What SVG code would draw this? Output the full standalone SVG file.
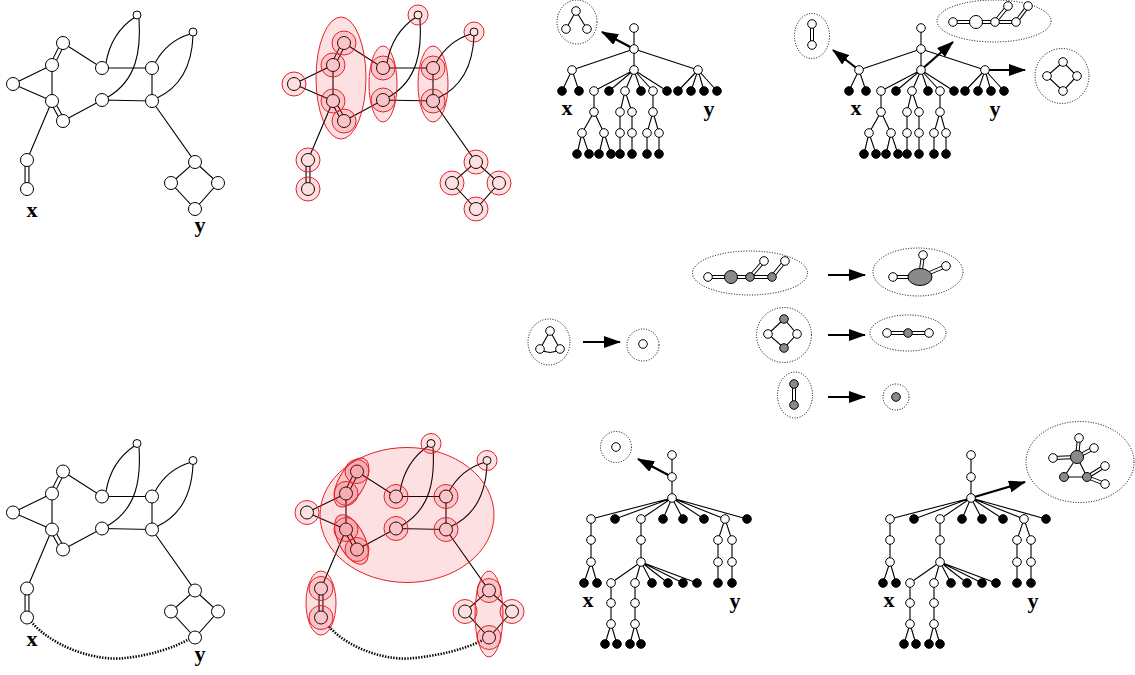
<svg xmlns="http://www.w3.org/2000/svg" xmlns:xlink="http://www.w3.org/1999/xlink" width="1135" height="675" viewBox="0 0 1135 675">
<style>
.e{stroke:#000;stroke-width:1.1;fill:none}
.do{stroke:#000;stroke-width:5;fill:none}
.di{stroke:#fff;stroke-width:2.8;fill:none}
.do2{stroke:#000;stroke-width:4;fill:none}
.di2{stroke:#fff;stroke-width:2;fill:none}
.n{fill:#fff;stroke:#000;stroke-width:1}
.b{fill:#000;stroke:#000;stroke-width:1}
.g{fill:#8a8a8a;stroke:#000;stroke-width:1}
.dot{fill:none;stroke:#000;stroke-width:1;stroke-dasharray:1 1.6}
.pk{fill:#e8101c;fill-opacity:0.13;stroke:#e6222a;stroke-width:1}
.arr{stroke:#000;stroke-width:2.2;fill:none;marker-end:url(#ah)}
.dl{fill:none;stroke:#000;stroke-width:2.6;stroke-dasharray:1.4 1.4}
.lbl{font-family:"Liberation Serif",serif;font-weight:bold;font-size:22px;text-anchor:middle;fill:#000}
</style>
<defs>
<marker id="ah" markerUnits="userSpaceOnUse" markerWidth="17" markerHeight="12" refX="16" refY="6" orient="auto"><path d="M0,0 L17,6 L0,12 z" fill="#000"/></marker>
<g id="gE">
<path class="e" d="M52,65 L13,84 L52,101 M52,65 L52,101 M63,43 L102,68 L152,68 L152,101 L102,100 L63,121 M52,101 L27,160 M152,101 L195,162 L171,183 L195,209 L218,183 L195,162"/>
<path class="e" d="M106,63 Q111,33 135,17 M139,19 C141,50 137,80 108,97 M155,63 Q167,41 190,34 M193,36 C192,60 185,85 157,98"/>
<path class="do" d="M63,43 L52,65 M52,101 L63,121 M27,160 L27,189"/>
<path class="di" d="M63,43 L52,65 M52,101 L63,121 M27,160 L27,189"/>
</g>
</defs>
<rect width="1135" height="675" fill="#fff"/>

<!-- Panel 1 -->
<g id="panel1">
<g id="p1-connectors"><use href="#gE"/></g>
<circle id="p1-A" class="n" cx="137" cy="15" r="4"/>
<circle id="p1-B" class="n" cx="193" cy="32" r="4"/>
<circle id="p1-n1" class="n" cx="63" cy="43" r="6.5"/>
<circle id="p1-n2" class="n" cx="52" cy="65" r="6.5"/>
<circle id="p1-n3" class="n" cx="13" cy="84" r="6.5"/>
<circle id="p1-n4" class="n" cx="52" cy="101" r="6.5"/>
<circle id="p1-n5" class="n" cx="63" cy="121" r="6.5"/>
<circle id="p1-m1" class="n" cx="102" cy="68" r="6.5"/>
<circle id="p1-m2" class="n" cx="102" cy="100" r="6.5"/>
<circle id="p1-r1" class="n" cx="152" cy="68" r="6.5"/>
<circle id="p1-r2" class="n" cx="152" cy="101" r="6.5"/>
<circle id="p1-x1" class="n" cx="27" cy="160" r="6.5"/>
<circle id="p1-x2" class="n" cx="27" cy="189" r="6.5"/>
<circle id="p1-yt" class="n" cx="195" cy="162" r="6.5"/>
<circle id="p1-yl" class="n" cx="171" cy="183" r="6.5"/>
<circle id="p1-yr" class="n" cx="218" cy="183" r="6.5"/>
<circle id="p1-yb" class="n" cx="195" cy="209" r="6.5"/>
<text class="lbl" x="32" y="217">x</text>
<text class="lbl" x="200" y="232">y</text>
</g>

<!-- Panel 2 -->
<g id="panel2" transform="translate(281,0)">
<g id="p2-connectors"><use href="#gE"/></g>
<circle id="p2-A" class="n" cx="137" cy="15" r="4"/>
<circle id="p2-B" class="n" cx="193" cy="32" r="4"/>
<circle id="p2-n1" class="n" cx="63" cy="43" r="6.5"/>
<circle id="p2-n2" class="n" cx="52" cy="65" r="6.5"/>
<circle id="p2-n3" class="n" cx="13" cy="84" r="6.5"/>
<circle id="p2-n4" class="n" cx="52" cy="101" r="6.5"/>
<circle id="p2-n5" class="n" cx="63" cy="121" r="6.5"/>
<circle id="p2-m1" class="n" cx="102" cy="68" r="6.5"/>
<circle id="p2-m2" class="n" cx="102" cy="100" r="6.5"/>
<circle id="p2-r1" class="n" cx="152" cy="68" r="6.5"/>
<circle id="p2-r2" class="n" cx="152" cy="101" r="6.5"/>
<circle id="p2-x1" class="n" cx="27" cy="160" r="6.5"/>
<circle id="p2-x2" class="n" cx="27" cy="189" r="6.5"/>
<circle id="p2-yt" class="n" cx="195" cy="162" r="6.5"/>
<circle id="p2-yl" class="n" cx="171" cy="183" r="6.5"/>
<circle id="p2-yr" class="n" cx="218" cy="183" r="6.5"/>
<circle id="p2-yb" class="n" cx="195" cy="209" r="6.5"/>
<g id="p2-groups">
<ellipse class="pk" cx="60" cy="78" rx="25" ry="61"/>
<ellipse class="pk" cx="102" cy="84" rx="14" ry="38"/>
<ellipse class="pk" cx="152" cy="84" rx="15" ry="38"/>
<circle class="pk" cx="137" cy="15" r="10"/>
<circle class="pk" cx="193" cy="32" r="10"/>
<circle class="pk" cx="63" cy="43" r="12"/>
<circle class="pk" cx="52" cy="65" r="12"/>
<circle class="pk" cx="13" cy="84" r="12"/>
<circle class="pk" cx="52" cy="101" r="12"/>
<circle class="pk" cx="63" cy="121" r="12"/>
<circle class="pk" cx="102" cy="68" r="12"/>
<circle class="pk" cx="102" cy="100" r="12"/>
<circle class="pk" cx="152" cy="68" r="12"/>
<circle class="pk" cx="152" cy="101" r="12"/>
<circle class="pk" cx="27" cy="160" r="12"/>
<circle class="pk" cx="27" cy="189" r="12"/>
<circle class="pk" cx="195" cy="162" r="12"/>
<circle class="pk" cx="171" cy="183" r="12"/>
<circle class="pk" cx="218" cy="183" r="12"/>
<circle class="pk" cx="195" cy="209" r="12"/>
</g>
</g>

<!-- Panel 5 (bottom left) -->
<g id="panel5" transform="translate(0,428.5)">
<g id="p5-connectors"><use href="#gE"/>
<path class="dl" d="M31,193 C55,221 100,233 125,229.5 C150,227 175,219 190,210"/></g>
<circle id="p5-A" class="n" cx="137" cy="15" r="4"/>
<circle id="p5-B" class="n" cx="193" cy="32" r="4"/>
<circle id="p5-n1" class="n" cx="63" cy="43" r="6.5"/>
<circle id="p5-n2" class="n" cx="52" cy="65" r="6.5"/>
<circle id="p5-n3" class="n" cx="13" cy="84" r="6.5"/>
<circle id="p5-n4" class="n" cx="52" cy="101" r="6.5"/>
<circle id="p5-n5" class="n" cx="63" cy="121" r="6.5"/>
<circle id="p5-m1" class="n" cx="102" cy="68" r="6.5"/>
<circle id="p5-m2" class="n" cx="102" cy="100" r="6.5"/>
<circle id="p5-r1" class="n" cx="152" cy="68" r="6.5"/>
<circle id="p5-r2" class="n" cx="152" cy="101" r="6.5"/>
<circle id="p5-x1" class="n" cx="27" cy="160" r="6.5"/>
<circle id="p5-x2" class="n" cx="27" cy="189" r="6.5"/>
<circle id="p5-yt" class="n" cx="195" cy="162" r="6.5"/>
<circle id="p5-yl" class="n" cx="171" cy="183" r="6.5"/>
<circle id="p5-yr" class="n" cx="218" cy="183" r="6.5"/>
<circle id="p5-yb" class="n" cx="195" cy="209" r="6.5"/>
<text class="lbl" x="32" y="217">x</text>
<text class="lbl" x="200" y="232">y</text>
</g>

<!-- Panel 6 (bottom second) -->
<g id="panel6" transform="translate(294,428.5)">
<g id="p6-connectors"><use href="#gE"/>
<path class="dl" d="M35,198 C55,221 95,233 120,229.5 C145,227 170,221 188,212"/></g>
<circle id="p6-A" class="n" cx="137" cy="15" r="4"/>
<circle id="p6-B" class="n" cx="193" cy="32" r="4"/>
<circle id="p6-n1" class="n" cx="63" cy="43" r="6.5"/>
<circle id="p6-n2" class="n" cx="52" cy="65" r="6.5"/>
<circle id="p6-n3" class="n" cx="13" cy="84" r="6.5"/>
<circle id="p6-n4" class="n" cx="52" cy="101" r="6.5"/>
<circle id="p6-n5" class="n" cx="63" cy="121" r="6.5"/>
<circle id="p6-m1" class="n" cx="102" cy="68" r="6.5"/>
<circle id="p6-m2" class="n" cx="102" cy="100" r="6.5"/>
<circle id="p6-r1" class="n" cx="152" cy="68" r="6.5"/>
<circle id="p6-r2" class="n" cx="152" cy="101" r="6.5"/>
<circle id="p6-x1" class="n" cx="27" cy="160" r="6.5"/>
<circle id="p6-x2" class="n" cx="27" cy="189" r="6.5"/>
<circle id="p6-yt" class="n" cx="195" cy="162" r="6.5"/>
<circle id="p6-yl" class="n" cx="171" cy="183" r="6.5"/>
<circle id="p6-yr" class="n" cx="218" cy="183" r="6.5"/>
<circle id="p6-yb" class="n" cx="195" cy="209" r="6.5"/>
<g id="p6-groups">
<ellipse class="pk" cx="113" cy="86.5" rx="87" ry="67.5"/>
<ellipse class="pk" cx="57.5" cy="54" rx="13" ry="27" transform="rotate(29 57.5 54)"/>
<ellipse class="pk" cx="57.5" cy="111" rx="13" ry="27" transform="rotate(-27 57.5 111)"/>
<ellipse class="pk" cx="27" cy="174.5" rx="15" ry="32"/>
<ellipse class="pk" cx="195" cy="185.5" rx="14" ry="43"/>
<circle class="pk" cx="137" cy="15" r="10"/>
<circle class="pk" cx="193" cy="32" r="10"/>
<circle class="pk" cx="63" cy="43" r="12"/>
<circle class="pk" cx="52" cy="65" r="12"/>
<circle class="pk" cx="13" cy="84" r="12"/>
<circle class="pk" cx="52" cy="101" r="12"/>
<circle class="pk" cx="63" cy="121" r="12"/>
<circle class="pk" cx="102" cy="68" r="12"/>
<circle class="pk" cx="102" cy="100" r="12"/>
<circle class="pk" cx="152" cy="68" r="12"/>
<circle class="pk" cx="152" cy="101" r="12"/>
<circle class="pk" cx="27" cy="160" r="12"/>
<circle class="pk" cx="27" cy="189" r="12"/>
<circle class="pk" cx="195" cy="162" r="12"/>
<circle class="pk" cx="171" cy="183" r="12"/>
<circle class="pk" cx="218" cy="183" r="12"/>
<circle class="pk" cx="195" cy="209" r="12"/>
</g>
</g>

<!-- Panel 3 (top tree) -->
<g id="panel3">
<g id="t1-connectors">
<path class="e" d="M634,28 L634,49 M634,49 L572,70 M634,49 L634,70 M634,49 L698,70 M572,70 L562,91 M572,70 L579,91 M634,70 L594,91 M634,70 L609,91 M634,70 L625,91 M634,70 L641,91 M634,70 L653,91 M634,70 L667,91 M698,70 L678,91 M698,70 L691,91 M698,70 L704,91 M698,70 L717,91 M594,91 L594,112 L582,133 M594,112 L604,133 M582,133 L577,154 M582,133 L589,154 M604,133 L599,154 M604,133 L611,154 M625,91 L620,112 L620,154 M625,91 L632,112 L632,154 M653,91 L653,112 L647,133 L647,154 M653,112 L659,133 L659,154"/>
<path class="e" d="M576,11 L566,29 M576,11 L587,29"/>
<path class="arr" d="M634,49 L602,32"/>
</g>
<ellipse id="t1-sub" class="dot" cx="577" cy="22" rx="20" ry="22"/>
<circle id="t1-s1" class="n" cx="576" cy="11" r="4.3"/>
<circle id="t1-s2" class="n" cx="566" cy="29" r="4.3"/>
<circle id="t1-s3" class="n" cx="587" cy="29" r="4.3"/>
<g id="t1-nodes">
<circle class="n" cx="634" cy="28" r="4.3"/><circle class="n" cx="634" cy="49" r="4.3"/>
<circle class="n" cx="572" cy="70" r="4.3"/><circle class="n" cx="634" cy="70" r="4.3"/><circle class="n" cx="698" cy="70" r="4.3"/>
<circle class="b" cx="562" cy="91" r="4.3"/><circle class="b" cx="579" cy="91" r="4.3"/><circle class="n" cx="594" cy="91" r="4.3"/><circle class="b" cx="609" cy="91" r="4.3"/><circle class="n" cx="625" cy="91" r="4.3"/><circle class="b" cx="641" cy="91" r="4.3"/><circle class="n" cx="653" cy="91" r="4.3"/><circle class="b" cx="667" cy="91" r="4.3"/><circle class="b" cx="678" cy="91" r="4.3"/><circle class="b" cx="691" cy="91" r="4.3"/><circle class="b" cx="704" cy="91" r="4.3"/><circle class="b" cx="717" cy="91" r="4.3"/>
<circle class="n" cx="594" cy="112" r="4.3"/><circle class="n" cx="620" cy="112" r="4.3"/><circle class="n" cx="632" cy="112" r="4.3"/><circle class="n" cx="653" cy="112" r="4.3"/>
<circle class="n" cx="582" cy="133" r="4.3"/><circle class="n" cx="604" cy="133" r="4.3"/><circle class="n" cx="620" cy="133" r="4.3"/><circle class="n" cx="632" cy="133" r="4.3"/><circle class="n" cx="647" cy="133" r="4.3"/><circle class="n" cx="659" cy="133" r="4.3"/>
<circle class="b" cx="577" cy="154" r="4.3"/><circle class="b" cx="589" cy="154" r="4.3"/><circle class="b" cx="599" cy="154" r="4.3"/><circle class="b" cx="611" cy="154" r="4.3"/><circle class="b" cx="620" cy="154" r="4.3"/><circle class="b" cx="632" cy="154" r="4.3"/><circle class="b" cx="647" cy="154" r="4.3"/><circle class="b" cx="659" cy="154" r="4.3"/>
</g>
<text class="lbl" x="567" y="115">x</text>
<text class="lbl" x="709" y="116">y</text>
</g>

<!-- Panel 4 (top right tree) -->
<g id="panel4">
<g id="t2-connectors">
<path class="e" transform="translate(287,0)" d="M634,28 L634,49 M634,49 L572,70 M634,49 L634,70 M634,49 L698,70 M572,70 L562,91 M572,70 L579,91 M634,70 L594,91 M634,70 L609,91 M634,70 L625,91 M634,70 L641,91 M634,70 L653,91 M634,70 L667,91 M698,70 L678,91 M698,70 L691,91 M698,70 L704,91 M698,70 L717,91 M594,91 L594,112 L582,133 M594,112 L604,133 M582,133 L577,154 M582,133 L589,154 M604,133 L599,154 M604,133 L611,154 M625,91 L620,112 L620,154 M625,91 L632,112 L632,154 M653,91 L653,112 L647,133 L647,154 M653,112 L659,133 L659,154"/>
<path class="do2" d="M812,24 L812,45 M953,22 L995,22 L1016,22 M995,22 L1008,6 M1016,22 L1028,6"/>
<path class="di2" d="M812,24 L812,45 M953,22 L995,22 L1016,22 M995,22 L1008,6 M1016,22 L1028,6"/>
<path class="e" d="M1063,62 L1047,76 L1063,91 L1077,76 Z"/>
<path class="arr" d="M859,70 L833,50"/>
<path class="arr" d="M921,70 L953,42"/>
<path class="arr" d="M984,70 L1025,70"/>
</g>
<ellipse id="t2-subA" class="dot" cx="812" cy="36" rx="17.5" ry="22.5"/>
<ellipse id="t2-subB" class="dot" cx="994" cy="21" rx="57" ry="21"/>
<ellipse id="t2-subC" class="dot" cx="1062" cy="76" rx="27" ry="27.5"/>
<g id="t2-subnodes">
<circle class="n" cx="812" cy="24" r="4.3"/><circle class="n" cx="812" cy="45" r="4.3"/>
<circle class="n" cx="953" cy="22" r="4.3"/><circle class="n" cx="976" cy="22" r="6.5"/><circle class="n" cx="995" cy="22" r="4.3"/><circle class="n" cx="1016" cy="22" r="4.3"/><circle class="n" cx="1008" cy="6" r="4.3"/><circle class="n" cx="1028" cy="6" r="4.3"/>
<circle class="n" cx="1063" cy="62" r="4.3"/><circle class="n" cx="1047" cy="76" r="4.3"/><circle class="n" cx="1077" cy="76" r="4.3"/><circle class="n" cx="1063" cy="91" r="4.3"/>
</g>
<g id="t2-nodes" transform="translate(287,0)">
<circle class="n" cx="634" cy="28" r="4.3"/><circle class="n" cx="634" cy="49" r="4.3"/>
<circle class="n" cx="572" cy="70" r="4.3"/><circle class="n" cx="634" cy="70" r="4.3"/><circle class="n" cx="698" cy="70" r="4.3"/>
<circle class="b" cx="562" cy="91" r="4.3"/><circle class="b" cx="579" cy="91" r="4.3"/><circle class="n" cx="594" cy="91" r="4.3"/><circle class="b" cx="609" cy="91" r="4.3"/><circle class="n" cx="625" cy="91" r="4.3"/><circle class="b" cx="641" cy="91" r="4.3"/><circle class="n" cx="653" cy="91" r="4.3"/><circle class="b" cx="667" cy="91" r="4.3"/><circle class="b" cx="678" cy="91" r="4.3"/><circle class="b" cx="691" cy="91" r="4.3"/><circle class="b" cx="704" cy="91" r="4.3"/><circle class="b" cx="717" cy="91" r="4.3"/>
<circle class="n" cx="594" cy="112" r="4.3"/><circle class="n" cx="620" cy="112" r="4.3"/><circle class="n" cx="632" cy="112" r="4.3"/><circle class="n" cx="653" cy="112" r="4.3"/>
<circle class="n" cx="582" cy="133" r="4.3"/><circle class="n" cx="604" cy="133" r="4.3"/><circle class="n" cx="620" cy="133" r="4.3"/><circle class="n" cx="632" cy="133" r="4.3"/><circle class="n" cx="647" cy="133" r="4.3"/><circle class="n" cx="659" cy="133" r="4.3"/>
<circle class="b" cx="577" cy="154" r="4.3"/><circle class="b" cx="589" cy="154" r="4.3"/><circle class="b" cx="599" cy="154" r="4.3"/><circle class="b" cx="611" cy="154" r="4.3"/><circle class="b" cx="620" cy="154" r="4.3"/><circle class="b" cx="632" cy="154" r="4.3"/><circle class="b" cx="647" cy="154" r="4.3"/><circle class="b" cx="659" cy="154" r="4.3"/>
</g>
<text class="lbl" x="856" y="115">x</text>
<text class="lbl" x="995" y="116">y</text>
</g>

<!-- Middle row -->
<g id="middle">
<g id="mid-connectors">
<path class="e" d="M550,331 L540,349 M550,331 L560,349 M540,349 Q550,356 560,349"/>
<path class="do2" d="M708,277 L772,277 M750,277 L764,261 M772,277 L785,261 M893,277 L920,277 L923,255 M920,277 L946,266 M887,333 L929,333 M794,384 L794,405"/>
<path class="di2" d="M708,277 L772,277 M750,277 L764,261 M772,277 L785,261 M893,277 L920,277 L923,255 M920,277 L946,266 M887,333 L929,333 M794,384 L794,405"/>
<path class="e" d="M784,319 L768,334 L784,348 L797,334 Z"/>
<path class="arr" d="M583,342 L620,342"/>
<path class="arr" d="M828,275 L865,275"/>
<path class="arr" d="M828,335 L865,335"/>
<path class="arr" d="M828,397 L865,397"/>
</g>
<ellipse class="dot" cx="549" cy="342" rx="21" ry="23"/>
<circle class="dot" cx="643" cy="345" r="16"/>
<ellipse class="dot" cx="750" cy="273" rx="57.5" ry="22"/>
<ellipse class="dot" cx="918" cy="272" rx="45" ry="24"/>
<ellipse class="dot" cx="784" cy="335" rx="27.5" ry="27.5"/>
<ellipse class="dot" cx="908" cy="333" rx="38" ry="18"/>
<ellipse class="dot" cx="795" cy="395" rx="17.5" ry="23"/>
<circle class="dot" cx="896" cy="397" r="13"/>
<g id="mid-nodes">
<circle class="n" cx="550" cy="331" r="4.3"/><circle class="n" cx="540" cy="349" r="4.3"/><circle class="n" cx="560" cy="349" r="4.3"/>
<circle class="n" cx="643" cy="344" r="4.3"/>
<circle class="n" cx="708" cy="277" r="4.3"/><circle class="g" cx="731" cy="277" r="6.5"/><circle class="g" cx="750" cy="277" r="4.3"/><circle class="g" cx="772" cy="277" r="4.3"/><circle class="n" cx="764" cy="261" r="4.3"/><circle class="n" cx="785" cy="261" r="4.3"/>
<circle class="n" cx="893" cy="277" r="4.3"/><circle class="n" cx="923" cy="255" r="4.3"/><circle class="n" cx="946" cy="266" r="4.3"/><ellipse class="g" cx="920" cy="277" rx="12" ry="8.5"/>
<circle class="g" cx="784" cy="319" r="4.3"/><circle class="n" cx="768" cy="334" r="4.3"/><circle class="n" cx="797" cy="334" r="4.3"/><circle class="g" cx="784" cy="348" r="4.3"/>
<circle class="n" cx="887" cy="333" r="4.3"/><circle class="g" cx="908" cy="333" r="4.3"/><circle class="n" cx="929" cy="333" r="4.3"/>
<circle class="g" cx="794" cy="384" r="4.3"/><circle class="g" cx="794" cy="405" r="4.3"/>
<circle class="g" cx="896" cy="397" r="4.3"/>
</g>
</g>

<!-- Panel 7 (bottom tree) -->
<g id="panel7">
<g id="b1-connectors">
<path class="e" d="M672,455 L672,498 M672,498 L591,519 M672,498 L615,519 M672,498 L641,519 M672,498 L663,519 M672,498 L683,519 M672,498 L704,519 M672,498 L725,519 M672,498 L747,519 M591,519 L591,562 M591,562 L584,583 M591,562 L597,583 M641,519 L641,562 M641,562 L611,583 M641,562 L635,583 M641,562 L652,583 M641,562 L668,583 M641,562 L683,583 M641,562 L697,583 M611,583 L611,624 M611,624 L605,644 M611,624 L617,644 M635,583 L635,624 L630,644 M635,624 L641,644 M725,519 L718,540 L718,583 M725,519 L732,540 L732,583"/>
<path class="arr" d="M672,477 L638,459"/>
</g>
<circle class="dot" cx="616" cy="447" r="15.5"/>
<circle id="b1-sub" class="n" cx="616" cy="447" r="4.3"/>
<g id="b1-nodes">
<circle class="n" cx="672" cy="455" r="4.3"/><circle class="n" cx="672" cy="477" r="4.3"/><circle class="n" cx="672" cy="498" r="4.3"/>
<circle class="n" cx="591" cy="519" r="4.3"/><circle class="b" cx="615" cy="519" r="4.3"/><circle class="n" cx="641" cy="519" r="4.3"/><circle class="b" cx="663" cy="519" r="4.3"/><circle class="b" cx="683" cy="519" r="4.3"/><circle class="b" cx="704" cy="519" r="4.3"/><circle class="n" cx="725" cy="519" r="4.3"/><circle class="b" cx="747" cy="519" r="4.3"/>
<circle class="n" cx="591" cy="540" r="4.3"/><circle class="n" cx="591" cy="562" r="4.3"/><circle class="b" cx="584" cy="583" r="4.3"/><circle class="b" cx="597" cy="583" r="4.3"/>
<circle class="n" cx="641" cy="540" r="4.3"/><circle class="n" cx="641" cy="562" r="4.3"/>
<circle class="n" cx="611" cy="583" r="4.3"/><circle class="n" cx="635" cy="583" r="4.3"/><circle class="b" cx="652" cy="583" r="4.3"/><circle class="b" cx="668" cy="583" r="4.3"/><circle class="b" cx="683" cy="583" r="4.3"/><circle class="b" cx="697" cy="583" r="4.3"/>
<circle class="n" cx="611" cy="603" r="4.3"/><circle class="n" cx="611" cy="624" r="4.3"/><circle class="b" cx="605" cy="644" r="4.3"/><circle class="b" cx="617" cy="644" r="4.3"/>
<circle class="n" cx="635" cy="603" r="4.3"/><circle class="n" cx="635" cy="624" r="4.3"/><circle class="b" cx="630" cy="644" r="4.3"/><circle class="b" cx="641" cy="644" r="4.3"/>
<circle class="n" cx="718" cy="540" r="4.3"/><circle class="n" cx="732" cy="540" r="4.3"/><circle class="n" cx="718" cy="562" r="4.3"/><circle class="n" cx="732" cy="562" r="4.3"/><circle class="b" cx="718" cy="583" r="4.3"/><circle class="b" cx="732" cy="583" r="4.3"/>
</g>
<text class="lbl" x="588" y="607">x</text>
<text class="lbl" x="735" y="608">y</text>
</g>

<!-- Panel 8 (bottom right tree) -->
<g id="panel8">
<g id="b2-connectors">
<path class="e" transform="translate(299,0)" d="M672,455 L672,498 M672,498 L591,519 M672,498 L615,519 M672,498 L641,519 M672,498 L663,519 M672,498 L683,519 M672,498 L704,519 M672,498 L725,519 M672,498 L747,519 M591,519 L591,562 M591,562 L584,583 M591,562 L597,583 M641,519 L641,562 M641,562 L611,583 M641,562 L635,583 M641,562 L652,583 M641,562 L668,583 M641,562 L683,583 M641,562 L697,583 M611,583 L611,624 M611,624 L605,644 M611,624 L617,644 M635,583 L635,624 L630,644 M635,624 L641,644 M725,519 L718,540 L718,583 M725,519 L732,540 L732,583"/>
<path class="e" d="M1077,457 L1064,477 L1087,477 Z"/>
<path class="do2" d="M1053,458 L1077,457 L1079,438 M1077,457 L1094,448 M1087,477 L1105,466 M1087,477 L1105,484"/>
<path class="di2" d="M1053,458 L1077,457 L1079,438 M1077,457 L1094,448 M1087,477 L1105,466 M1087,477 L1105,484"/>
<path class="arr" d="M971,498 L1025,482"/>
</g>
<ellipse class="dot" cx="1080" cy="462" rx="54" ry="40.5"/>
<g id="b2-subnodes">
<circle class="n" cx="1053" cy="458" r="4.3"/><circle class="n" cx="1079" cy="438" r="4.3"/><circle class="n" cx="1094" cy="448" r="4.3"/><circle class="n" cx="1105" cy="466" r="4.3"/><circle class="n" cx="1105" cy="484" r="4.3"/>
<circle class="g" cx="1077" cy="457" r="6.5"/><circle class="g" cx="1064" cy="477" r="4.5"/><circle class="g" cx="1087" cy="477" r="4.5"/>
</g>
<g id="b2-nodes" transform="translate(299,0)">
<circle class="n" cx="672" cy="455" r="4.3"/><circle class="n" cx="672" cy="477" r="4.3"/><circle class="n" cx="672" cy="498" r="4.3"/>
<circle class="n" cx="591" cy="519" r="4.3"/><circle class="b" cx="615" cy="519" r="4.3"/><circle class="n" cx="641" cy="519" r="4.3"/><circle class="b" cx="663" cy="519" r="4.3"/><circle class="b" cx="683" cy="519" r="4.3"/><circle class="b" cx="704" cy="519" r="4.3"/><circle class="n" cx="725" cy="519" r="4.3"/><circle class="b" cx="747" cy="519" r="4.3"/>
<circle class="n" cx="591" cy="540" r="4.3"/><circle class="n" cx="591" cy="562" r="4.3"/><circle class="b" cx="584" cy="583" r="4.3"/><circle class="b" cx="597" cy="583" r="4.3"/>
<circle class="n" cx="641" cy="540" r="4.3"/><circle class="n" cx="641" cy="562" r="4.3"/>
<circle class="n" cx="611" cy="583" r="4.3"/><circle class="n" cx="635" cy="583" r="4.3"/><circle class="b" cx="652" cy="583" r="4.3"/><circle class="b" cx="668" cy="583" r="4.3"/><circle class="b" cx="683" cy="583" r="4.3"/><circle class="b" cx="697" cy="583" r="4.3"/>
<circle class="n" cx="611" cy="603" r="4.3"/><circle class="n" cx="611" cy="624" r="4.3"/><circle class="b" cx="605" cy="644" r="4.3"/><circle class="b" cx="617" cy="644" r="4.3"/>
<circle class="n" cx="635" cy="603" r="4.3"/><circle class="n" cx="635" cy="624" r="4.3"/><circle class="b" cx="630" cy="644" r="4.3"/><circle class="b" cx="641" cy="644" r="4.3"/>
<circle class="n" cx="718" cy="540" r="4.3"/><circle class="n" cx="732" cy="540" r="4.3"/><circle class="n" cx="718" cy="562" r="4.3"/><circle class="n" cx="732" cy="562" r="4.3"/><circle class="b" cx="718" cy="583" r="4.3"/><circle class="b" cx="732" cy="583" r="4.3"/>
</g>
<text class="lbl" x="889" y="607">x</text>
<text class="lbl" x="1033" y="608">y</text>
</g>
</svg>
